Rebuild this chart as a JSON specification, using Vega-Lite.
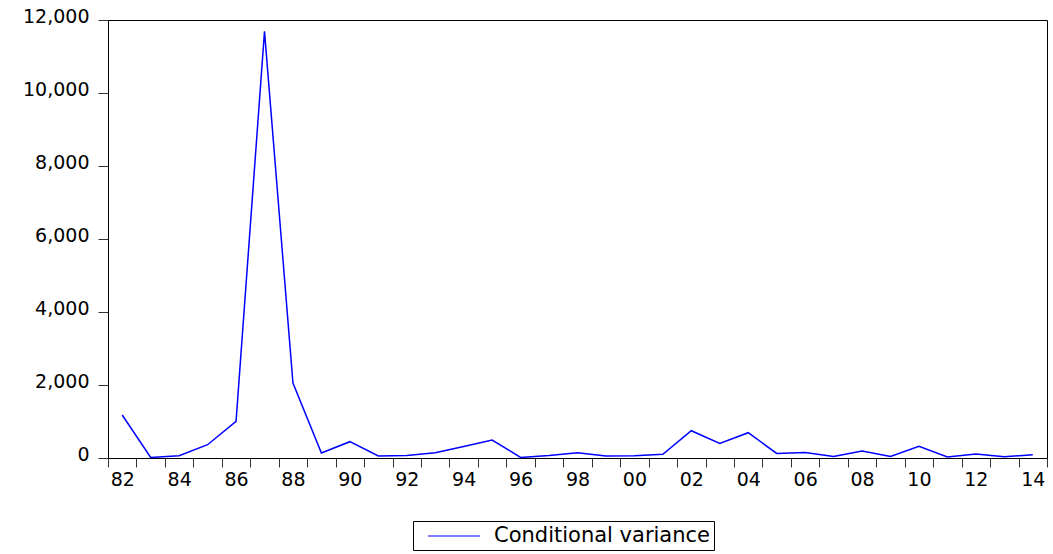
{
  "$schema": "https://vega.github.io/schema/vega-lite/v6.json",
  "width": 939,
  "height": 438,
  "autosize": "none",
  "padding": {"left": 108, "top": 20, "right": 6, "bottom": 96},
  "background": "white",
  "config": {
    "view": {"stroke": "#000000", "strokeWidth": 1},
    "font": "DejaVu Sans",
    "axis": {
      "labelFont": "DejaVu Sans",
      "labelFontSize": 19,
      "labelColor": "#000000",
      "tickColor": "#333333",
      "domainColor": "#000000",
      "grid": false,
      "title": null
    }
  },
  "data": {
    "values": [
      {"year": 1982, "value": 1178, "series": "Conditional variance"},
      {"year": 1983, "value": 15, "series": "Conditional variance"},
      {"year": 1984, "value": 63, "series": "Conditional variance"},
      {"year": 1985, "value": 364, "series": "Conditional variance"},
      {"year": 1986, "value": 1003, "series": "Conditional variance"},
      {"year": 1987, "value": 11690, "series": "Conditional variance"},
      {"year": 1988, "value": 2055, "series": "Conditional variance"},
      {"year": 1989, "value": 137, "series": "Conditional variance"},
      {"year": 1990, "value": 447, "series": "Conditional variance"},
      {"year": 1991, "value": 55, "series": "Conditional variance"},
      {"year": 1992, "value": 71, "series": "Conditional variance"},
      {"year": 1993, "value": 145, "series": "Conditional variance"},
      {"year": 1994, "value": 318, "series": "Conditional variance"},
      {"year": 1995, "value": 493, "series": "Conditional variance"},
      {"year": 1996, "value": 16, "series": "Conditional variance"},
      {"year": 1997, "value": 71, "series": "Conditional variance"},
      {"year": 1998, "value": 145, "series": "Conditional variance"},
      {"year": 1999, "value": 55, "series": "Conditional variance"},
      {"year": 2000, "value": 63, "series": "Conditional variance"},
      {"year": 2001, "value": 100, "series": "Conditional variance"},
      {"year": 2002, "value": 748, "series": "Conditional variance"},
      {"year": 2003, "value": 400, "series": "Conditional variance"},
      {"year": 2004, "value": 693, "series": "Conditional variance"},
      {"year": 2005, "value": 126, "series": "Conditional variance"},
      {"year": 2006, "value": 153, "series": "Conditional variance"},
      {"year": 2007, "value": 44, "series": "Conditional variance"},
      {"year": 2008, "value": 192, "series": "Conditional variance"},
      {"year": 2009, "value": 44, "series": "Conditional variance"},
      {"year": 2010, "value": 318, "series": "Conditional variance"},
      {"year": 2011, "value": 27, "series": "Conditional variance"},
      {"year": 2012, "value": 110, "series": "Conditional variance"},
      {"year": 2013, "value": 36, "series": "Conditional variance"},
      {"year": 2014, "value": 90, "series": "Conditional variance"}
    ]
  },
  "mark": {"type": "line", "strokeWidth": 1.5, "interpolate": "linear"},
  "encoding": {
    "x": {
      "field": "year",
      "type": "ordinal",
      "bandPosition": 0.5,
      "scale": {"type": "band", "paddingInner": 0, "paddingOuter": 0},
      "axis": {
        "tickBand": "extent",
        "tickSize": 9,
        "labelPadding": 3,
        "labelAngle": 0,
        "labelAlign": "center",
        "labelExpr": "datum.value % 2 == 0 ? substring(toString(datum.value), 2, 4) : ''"
      }
    },
    "y": {
      "field": "value",
      "type": "quantitative",
      "scale": {"domain": [0, 12000], "nice": false, "zero": true},
      "axis": {
        "values": [0, 2000, 4000, 6000, 8000, 10000, 12000],
        "format": ",d",
        "tickSize": 10,
        "labelPadding": 9,
        "labelBaseline": "alphabetic",
        "labelOffset": 2
      }
    },
    "color": {
      "field": "series",
      "type": "nominal",
      "scale": {"range": ["#0000ff"]},
      "legend": {
        "title": null,
        "orient": "none",
        "legendX": 305,
        "legendY": 501,
        "symbolType": "M-2.6,0H2.6",
        "symbolSize": 400,
        "symbolStrokeWidth": 1.2,
        "symbolOffset": 26,
        "labelFont": "DejaVu Sans",
        "labelFontSize": 21,
        "labelColor": "#000000",
        "strokeColor": "#000000",
        "padding": 4,
        "labelOffset": 29,
        "labelLimit": 400
      }
    }
  }
}
